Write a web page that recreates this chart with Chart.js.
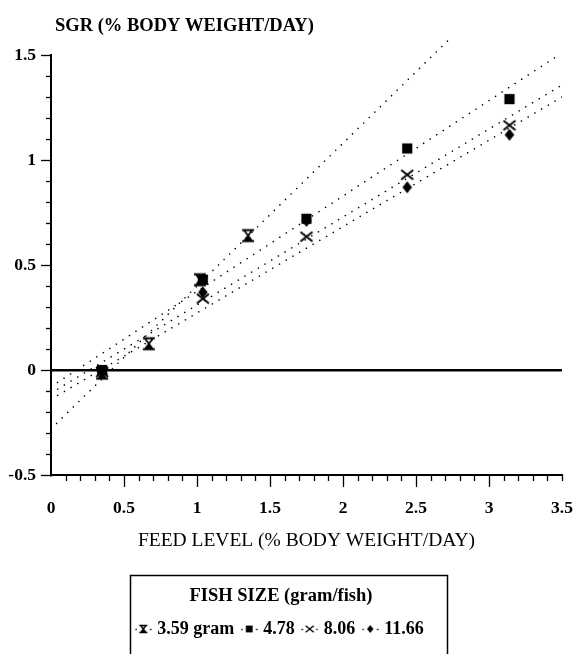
<!DOCTYPE html>
<html>
<head>
<meta charset="utf-8">
<script src="https://cdn.jsdelivr.net/npm/chart.js@4.4.0/dist/chart.umd.min.js"></script>
<style>
html, body { margin: 0; padding: 0; background: #fff; }
#wrap { width: 574px; height: 654px; }
</style>
</head>
<body>
<div id="wrap"><canvas id="myChart"></canvas></div>
<script>
// values
const sizeLabels = ['3.59 gram', '4.78', '8.06', '11.66'];

const feedSmall = [0.35, 0.67, 1.02, 1.35];
const sgr359 = [-0.015, 0.125, 0.43, 0.64];

const feedLevels = [0.35, 1.04, 1.75, 2.44, 3.14];
const sgr478 = [0.0, 0.43, 0.72, 1.055, 1.29];
const sgr806 = [-0.01, 0.34, 0.635, 0.93, 1.165];
const sgr1166 = [-0.005, 0.37, 0.71, 0.87, 1.12];

// regression lines (end points)
const fitX359 = [0, 2.75];
const fitY359 = [-0.28, 1.59];
const fitX = [0, 3.5];
const fitY478 = [-0.08, 1.51];
const fitY806 = [-0.11, 1.357];
const fitY1166 = [-0.14, 1.30];

// tick labels
const xTicks = [0, 0.5, 1, 1.5, 2, 2.5, 3, 3.5];
const yTicks = [-0.5, 0, 0.5, 1, 1.5];

const FONT = '"Liberation Serif", "Times New Roman", serif';
Chart.defaults.font.family = FONT;
Chart.defaults.color = '#000';

function pts(xs, ys) {
  return xs.map((x, i) => ({x: x, y: ys[i]}));
}

function isLabel(v, list) {
  return list.some(t => Math.abs(t - v) < 1e-6);
}

// marker glyphs
function marker(kind, s, dots) {
  const w = dots ? s + 9 : s + 4, h = s + 4;
  const c = document.createElement('canvas');
  c.width = w; c.height = h;
  const g = c.getContext('2d');
  const cx = w / 2, cy = h / 2, r = s / 2;
  g.fillStyle = '#000';
  g.strokeStyle = '#000';
  if (dots) {
    g.fillRect(0.5, cy - 0.2, 1.4, 1.4);
    g.fillRect(w - 1.9, cy - 0.2, 1.4, 1.4);
  }
  if (kind == 'hour') {
    g.lineWidth = s > 10 ? 1.8 : 1.4;
    g.beginPath();
    g.moveTo(cx - r, cy - r + 0.5); g.lineTo(cx + r, cy - r + 0.5);
    g.moveTo(cx - r, cy + r - 0.5); g.lineTo(cx + r, cy + r - 0.5);
    g.moveTo(cx - r * 0.75, cy - r); g.lineTo(cx + r * 0.75, cy + r);
    g.moveTo(cx + r * 0.75, cy - r); g.lineTo(cx - r * 0.75, cy + r);
    g.stroke();
    g.beginPath();
    g.moveTo(cx, cy); g.lineTo(cx + r * 0.7, cy + r); g.lineTo(cx - r * 0.7, cy + r);
    g.closePath(); g.fill();
  } else if (kind == 'square') {
    g.fillRect(cx - r * 0.85, cy - r * 0.85, r * 1.7, r * 1.7);
  } else if (kind == 'cross') {
    g.lineWidth = s > 10 ? 2 : 1.4;
    g.beginPath();
    g.moveTo(cx - r, cy - r * 0.8); g.lineTo(cx + r, cy + r * 0.8);
    g.moveTo(cx + r, cy - r * 0.8); g.lineTo(cx - r, cy + r * 0.8);
    g.stroke();
  } else {
    g.beginPath();
    g.moveTo(cx, cy - r); g.lineTo(cx + r * 0.8, cy);
    g.lineTo(cx, cy + r); g.lineTo(cx - r * 0.8, cy);
    g.closePath(); g.fill();
  }
  return c;
}

const kinds = ['hour', 'square', 'cross', 'diamond'];
const plotMarks = kinds.map(k => marker(k, 12, false));
const legendMarks = kinds.map(k => marker(k, 8, true));

function pointSet(label, data, i) {
  return {
    label: label,
    data: data,
    pointStyle: plotMarks[i],
    pointRadius: 6,
    showLine: false,
    borderColor: '#000',
    backgroundColor: '#000'
  };
}

function fitSet(data, noClip) {
  return {
    label: 'fit',
    data: data,
    showLine: true,
    pointRadius: 0,
    borderColor: '#000',
    borderWidth: 1.6,
    borderDash: [0.01, 7.8],
    borderCapStyle: 'round',
    clip: noClip ? false : undefined,
    fill: false
  };
}

// tick marks (major long / minor short) and the y-axis title
const axisTicks = {
  id: 'axisTicks',
  afterDraw(chart) {
    const {ctx, scales: {x, y}} = chart;
    ctx.save();
    ctx.strokeStyle = '#000';
    ctx.lineWidth = 1.3;
    x.ticks.forEach(t => {
      if (Math.abs(t.value) < 1e-6) return;
      const px = Math.round(x.getPixelForValue(t.value)) + 0.5;
      const len = isLabel(t.value, xTicks) && t.value < 3.4 ? 12 : 6;
      ctx.beginPath();
      ctx.moveTo(px, x.top);
      ctx.lineTo(px, x.top + len);
      ctx.stroke();
    });
    y.ticks.forEach(t => {
      const py = Math.round(y.getPixelForValue(t.value)) + 0.5;
      const len = isLabel(t.value, yTicks) ? 10 : 5;
      ctx.beginPath();
      ctx.moveTo(y.right, py);
      ctx.lineTo(y.right - len, py);
      ctx.stroke();
    });
    ctx.fillStyle = '#000';
    ctx.font = 'bold 18.5px ' + FONT;
    ctx.textBaseline = 'middle';
    ctx.textAlign = 'left';
    ctx.fillText('SGR (% BODY WEIGHT/DAY)', 55, 26);
    ctx.restore();
  }
};

// frame around the legend
const legendFrame = {
  id: 'legendFrame',
  afterDraw(chart) {
    const lg = chart.legend;
    if (!lg || !lg.legendHitBoxes.length) return;
    const hb = lg.legendHitBoxes;
    const l = Math.min(...hb.map(b => b.left));
    const r = Math.max(...hb.map(b => b.left + b.width));
    const ctx = chart.ctx;
    ctx.save();
    ctx.strokeStyle = '#000';
    ctx.lineWidth = 1.5;
    ctx.strokeRect(Math.round(l - 8) + 0.5, Math.round(lg.top + 10) + 0.5, Math.round(r - l + 32), chart.height);
    ctx.restore();
  }
};

const data = {
  datasets: [
    pointSet(sizeLabels[0], pts(feedSmall, sgr359), 0),
    pointSet(sizeLabels[1], pts(feedLevels, sgr478), 1),
    pointSet(sizeLabels[2], pts(feedLevels, sgr806), 2),
    pointSet(sizeLabels[3], pts(feedLevels, sgr1166), 3),
    fitSet(pts(fitX359, fitY359), true),
    fitSet(pts(fitX, fitY478)),
    fitSet(pts(fitX, fitY806)),
    fitSet(pts(fitX, fitY1166))
  ]
};

const config = {
  type: 'scatter',
  data: data,
  options: {
    responsive: true,
    maintainAspectRatio: false,
    animation: false,
    layout: { padding: { top: 55, right: 12, left: 0, bottom: 6 } },
    scales: {
      x: {
        type: 'linear',
        min: 0,
        max: 3.5,
        afterFit(scale) {
          scale.height = 90;
          scale.paddingLeft = 0;
          scale.paddingRight = 0;
        },
        grid: { display: true, drawOnChartArea: false, drawTicks: false },
        border: { display: true, color: '#000', width: 2 },
        ticks: {
          stepSize: 0.1,
          autoSkip: false,
          maxRotation: 0,
          padding: 23,
          font: { size: 17.5, weight: 'bold' },
          color: '#000',
          callback: v => isLabel(v, xTicks) ? String(Math.round(v * 10) / 10) : ''
        },
        title: {
          display: true,
          text: 'FEED LEVEL (% BODY WEIGHT/DAY)',
          font: { size: 19.5 },
          color: '#000',
          padding: { top: 0, bottom: 12 }
        }
      },
      y: {
        type: 'linear',
        min: -0.5,
        max: 1.5,
        afterFit(scale) {
          scale.width = 51;
          scale.paddingTop = 0;
          scale.paddingBottom = 0;
        },
        grid: {
          display: true,
          drawTicks: false,
          color: c => (c.tick && Math.abs(c.tick.value) < 1e-6) ? '#000' : 'rgba(0,0,0,0)',
          lineWidth: 2.5
        },
        border: { display: true, color: '#000', width: 2 },
        ticks: {
          stepSize: 0.1,
          autoSkip: false,
          padding: 15,
          font: { size: 17.5, weight: 'bold' },
          color: '#000',
          callback: v => isLabel(v, yTicks) ? String(Math.round(v * 10) / 10) : ''
        }
      }
    },
    plugins: {
      tooltip: { enabled: false },
      legend: {
        display: true,
        position: 'bottom',
        title: {
          display: true,
          text: 'FISH SIZE (gram/fish)',
          font: { size: 18.5, weight: 'bold' },
          color: '#000',
          padding: { top: 22, bottom: 0.8 }
        },
        labels: {
          usePointStyle: true,
          pointStyleWidth: 10,
          boxHeight: 14,
          padding: 10,
          color: '#000',
          font: { size: 18, weight: 'bold' },
          generateLabels: chart => sizeLabels.map((t, i) => ({
            text: t,
            pointStyle: legendMarks[i],
            fillStyle: '#000',
            strokeStyle: '#000',
            lineWidth: 0,
            hidden: false,
            datasetIndex: i,
            fontColor: '#000'
          }))
        }
      }
    }
  },
  plugins: [axisTicks, legendFrame]
};

const myChart = new Chart(document.getElementById('myChart'), config);
</script>
</body>
</html>
